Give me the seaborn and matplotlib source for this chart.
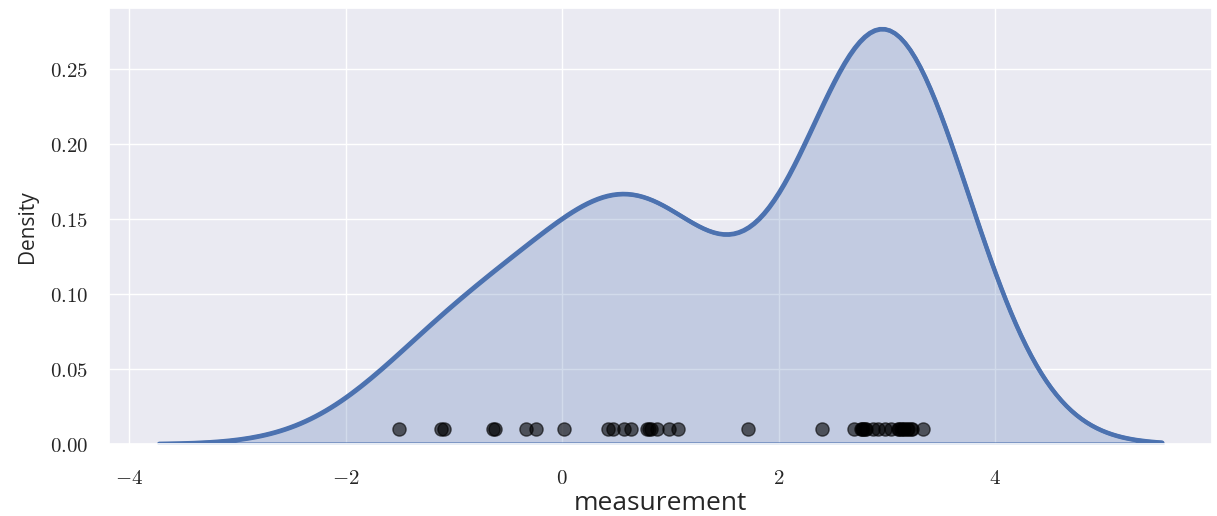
import numpy as np
import pandas as pd
import matplotlib
matplotlib.use("Agg")
import matplotlib.pyplot as plt
from matplotlib.ticker import FuncFormatter
import seaborn as sns

# Observed measurements
measurement = [
    -1.51, -1.12, -1.09, -0.64, -0.62, -0.33, -0.24, 0.02,
    0.42, 0.47, 0.57, 0.64, 0.78, 0.80, 0.82, 0.88, 0.99, 1.07,
    1.72, 2.40,
    2.70, 2.76, 2.77, 2.78, 2.80, 2.81, 2.87, 2.92, 2.98, 3.04,
    3.10, 3.11, 3.13, 3.15, 3.16, 3.19, 3.20, 3.22, 3.23, 3.33,
]
rug_height = 0.01
x_ticks = [-4, -2, 0, 2, 4]

df = pd.DataFrame({"measurement": measurement})
df["level"] = rug_height

sns.set_theme(style="darkgrid")
plt.rcParams["mathtext.fontset"] = "cm"
plt.rcParams["font.family"] = ["Open Sans", "DejaVu Sans"]

fig = plt.figure(figsize=(12.17, 5.16), dpi=100)
ax = fig.add_axes([0.0896, 0.1395, 0.9064, 0.8445])

sns.kdeplot(data=df, x="measurement", fill=True, color="#4c72b0",
            linewidth=3, alpha=0.25, ax=ax)
# redraw the outline on top of the fill
sns.kdeplot(data=df, x="measurement", fill=False, color="#4c72b0",
            linewidth=3, ax=ax)
sns.scatterplot(data=df, x="measurement", y="level", color="black",
                alpha=0.6, s=90, edgecolor="black", linewidth=1, ax=ax)

ax.set_xticks(x_ticks)
ax.xaxis.set_major_formatter(FuncFormatter(lambda v, p: f"${v:g}$"))
ax.yaxis.set_major_formatter(FuncFormatter(lambda v, p: f"${v:.2f}$"))
ax.tick_params(axis="both", labelsize=15)
ax.tick_params(axis="x", pad=11)
ax.tick_params(axis="y", pad=9)
ax.set_xlabel("measurement", fontsize=19)
ax.set_ylabel("Density", fontsize=15)
ax.xaxis.set_label_coords(0.5, -0.108)
ax.yaxis.set_label_coords(-0.064, 0.5)

fig.savefig("out.png", dpi=100)
